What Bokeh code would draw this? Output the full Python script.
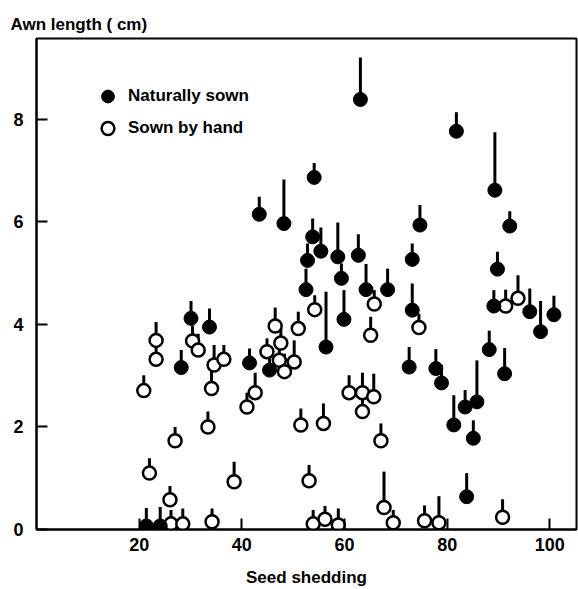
from bokeh.plotting import figure
from bokeh.models import FixedTicker, Range1d, Legend, LegendItem
from bokeh.embed import file_html
from bokeh.resources import INLINE

# Naturally sown: seed shedding, awn length, upper error
nat_x = [21.4, 24.1, 28.2, 30.1, 33.7, 41.5, 45.4, 43.4, 48.2, 52.5, 52.8, 53.8, 54.1, 55.4,
         56.4, 58.7, 59.4, 59.9, 62.7, 63.1, 64.2, 68.4, 72.6, 73.2, 73.2, 74.7, 77.8, 78.9,
         81.3, 81.8, 83.5, 83.8, 85.1, 85.8, 88.2, 89.1, 89.3, 89.8, 91.2, 92.2, 96.1, 98.2, 100.8]
nat_y = [0.07, 0.07, 3.16, 4.12, 3.95, 3.25, 3.11, 6.15, 5.97, 4.68, 5.25, 5.71, 6.87, 5.43,
         3.56, 5.32, 4.90, 4.10, 5.35, 8.39, 4.68, 4.68, 3.17, 4.28, 5.27, 5.94, 3.14, 2.86,
         2.04, 7.77, 2.39, 0.64, 1.78, 2.49, 3.51, 4.36, 6.62, 5.08, 3.04, 5.92, 4.25, 3.86, 4.19]
nat_err = [0.35, 0.37, 0.34, 0.34, 0.36, 0.28, 0.36, 0.34, 0.86, 0.41, 0.33, 0.36, 0.28, 0.46,
           1.08, 0.67, 0.29, 0.57, 0.41, 0.82, 0.50, 0.41, 0.39, 0.52, 0.31, 0.39, 0.38, 0.35,
           0.58, 0.37, 0.33, 0.46, 0.35, 0.81, 0.37, 0.31, 1.13, 0.34, 0.50, 0.29, 0.45, 0.60, 0.37]

# Sown by hand
hand_x = [20.9, 22.0, 23.3, 23.3, 26.0, 26.2, 27.0, 28.5, 30.4, 31.5, 33.4, 34.1, 34.2, 34.6,
          36.5, 38.5, 41.0, 42.6, 44.9, 46.5, 47.3, 47.6, 48.3, 50.2, 51.0, 51.5, 53.1, 53.9,
          54.2, 55.9, 56.2, 58.8, 60.9, 63.5, 63.5, 65.1, 65.7, 65.8, 67.1, 67.7, 69.5, 74.5,
          75.6, 78.4, 90.8, 91.4, 93.8]
hand_y = [2.71, 1.10, 3.69, 3.32, 0.58, 0.11, 1.73, 0.11, 3.68, 3.50, 2.00, 2.75, 0.15, 3.21,
          3.32, 0.93, 2.39, 2.67, 3.47, 3.97, 3.30, 3.64, 3.08, 3.27, 3.92, 2.04, 0.95, 0.11,
          4.29, 2.07, 0.20, 0.09, 2.67, 2.67, 2.30, 3.79, 2.59, 4.40, 1.73, 0.43, 0.13, 3.94,
          0.17, 0.13, 0.24, 4.36, 4.51]
hand_err = [0.30, 0.29, 0.36, 0.30, 0.27, 0.27, 0.27, 0.30, 0.30, 0.32, 0.30, 0.46, 0.26, 0.39,
            0.28, 0.39, 0.28, 0.39, 0.26, 0.36, 0.30, 0.28, 0.35, 0.42, 0.33, 0.32, 0.31, 0.27,
            0.28, 0.39, 0.26, 0.32, 0.34, 0.39, 0.30, 0.36, 0.45, 0.27, 0.34, 0.70, 0.25, 0.27,
            0.30, 0.52, 0.35, 0.32, 0.45]

x_ticks = [20, 40, 60, 80, 100]
y_ticks = [0, 2, 4, 6, 8]

FONT = "Liberation Sans"

p = figure(width=578, height=589, output_backend="svg", toolbar_location=None,
           x_range=Range1d(0, 105.2), y_range=Range1d(0, 9.58),
           min_border_left=36, min_border_right=2, min_border_top=38, min_border_bottom=59)
p.background_fill_color = "white"
p.border_fill_color = "white"
p.grid.visible = False
p.outline_line_color = "black"
p.outline_line_width = 2

p.title.text = "Awn length ( cm)"
p.title.align = "left"
p.title.offset = -26
p.title.text_font = FONT
p.title.text_font_size = "17px"
p.title.text_font_style = "bold"
p.title.text_color = "black"

for ax in (p.xaxis[0], p.yaxis[0]):
    ax.axis_line_width = 2
    ax.axis_line_color = "black"
    ax.major_tick_line_width = 2
    ax.major_tick_line_color = "black"
    ax.minor_tick_line_color = None
    ax.major_tick_in = 11
    ax.major_tick_out = 0
    ax.major_label_text_font = FONT
    ax.major_label_text_font_size = "18px"
    ax.major_label_text_font_style = "bold"
    ax.major_label_text_color = "black"

p.xaxis.ticker = FixedTicker(ticks=x_ticks)
p.yaxis.ticker = FixedTicker(ticks=y_ticks)
p.yaxis.major_label_standoff = 13
p.xaxis.major_label_standoff = 8
p.xaxis.axis_label = "Seed shedding"
p.xaxis.axis_label_text_font = FONT
p.xaxis.axis_label_text_font_size = "17px"
p.xaxis.axis_label_text_font_style = "bold"
p.xaxis.axis_label_text_color = "black"
p.xaxis.axis_label_standoff = 14

nat_top = [y + e for y, e in zip(nat_y, nat_err)]
hand_top = [y + e for y, e in zip(hand_y, hand_err)]

p.segment(x0=hand_x, y0=hand_y, x1=hand_x, y1=hand_top, line_color="black", line_width=3)
p.segment(x0=nat_x, y0=nat_y, x1=nat_x, y1=nat_top, line_color="black", line_width=3)

r_hand = p.scatter(x=hand_x, y=hand_y, size=13, marker="circle", fill_color="white",
                   line_color="black", line_width=2.5)
r_nat = p.scatter(x=nat_x, y=nat_y, size=14, marker="circle", fill_color="black",
                  line_color="black", line_width=1)

legend = Legend(items=[LegendItem(label="Naturally sown", renderers=[r_nat]),
                       LegendItem(label="Sown by hand", renderers=[r_hand])],
                location=(54, 385))
legend.border_line_color = None
legend.background_fill_alpha = 0
legend.padding = 0
legend.margin = 0
legend.glyph_width = 35
legend.glyph_height = 32
legend.label_height = 20
legend.spacing = 0
legend.label_standoff = 3
legend.label_text_font = FONT
legend.label_text_font_size = "17px"
legend.label_text_font_style = "bold"
legend.label_text_color = "black"
p.add_layout(legend, "center")

open("out.html", "w").write(file_html(p, INLINE))
